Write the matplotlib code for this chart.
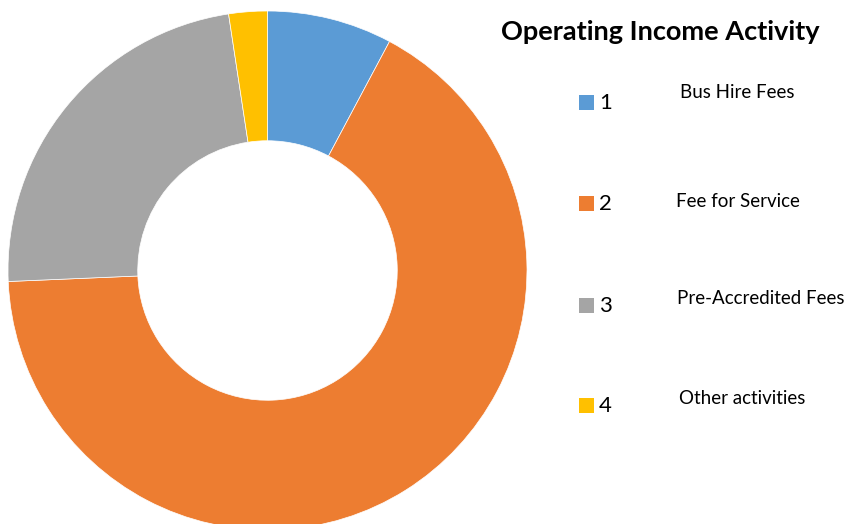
import matplotlib
matplotlib.use("Agg")
import matplotlib.pyplot as plt
from matplotlib.patches import Rectangle

plt.rcParams['font.family'] = ['Lato', 'DejaVu Sans']

# data
categories = ['1', '2', '3', '4']
descriptions = ['Bus Hire Fees', 'Fee for Service', 'Pre-Accredited Fees', 'Other activities']
shares = [7.8, 66.6, 23.3, 2.4]
colors = ['#5B9BD5', '#ED7D31', '#A5A5A5', '#FFC000']

W, H = 853, 524
fig = plt.figure(figsize=(W / 100, H / 100), dpi=100)

# donut axes, square in pixels
cx, cy, r = 267.5, 270.5, 259.5
ax = fig.add_axes([(cx - r) / W, (H - cy - r) / H, 2 * r / W, 2 * r / H])
ax.pie(shares, colors=colors, startangle=90, counterclock=False,
       radius=1.0, wedgeprops=dict(width=0.5, edgecolor='white', linewidth=0.5))
ax.set_xlim(-1, 1)
ax.set_ylim(-1, 1)
ax.set_aspect('auto')
ax.axis('off')

def px(x, y):
    return x / W, 1 - y / H

fig.text(*px(660, 32), 'Operating Income Activity', fontsize=19.5, fontweight='bold',
         ha='center', va='center')

marker_y = [102, 203, 305, 405]
label_y = [93, 201, 298, 399]
label_x = [680, 676, 677, 679]
for i, cat in enumerate(categories):
    x0, y0 = px(579, marker_y[i] + 7.5)
    fig.patches.append(Rectangle((x0, y0), 15 / W, 15 / H, transform=fig.transFigure,
                                 facecolor=colors[i], edgecolor='none'))
    fig.text(*px(599, marker_y[i] + 1), cat, fontsize=16, ha='left', va='center')
    fig.text(*px(label_x[i], label_y[i]), descriptions[i], fontsize=13.5,
             ha='left', va='center')

fig.savefig('out.png', dpi=100, facecolor='white')
